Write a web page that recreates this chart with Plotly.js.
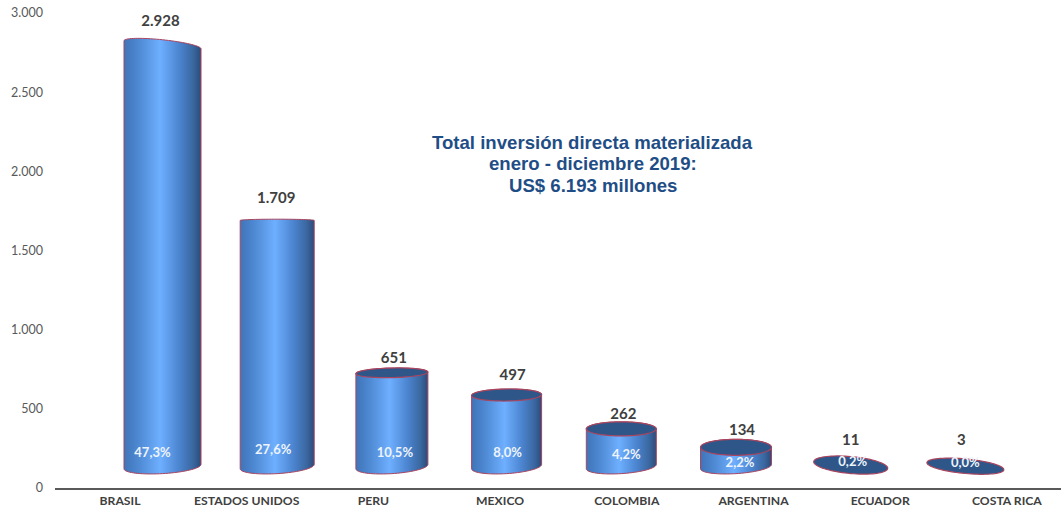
<!DOCTYPE html>
<html>
<head>
<meta charset="utf-8">
<script src="https://cdn.plot.ly/plotly-3.0.1.min.js"></script>
<style>html,body{margin:0;padding:0;background:#fff;overflow:hidden}</style>
</head>
<body>
<div id="chart" style="width:1061px;height:515px"></div>
<script>
// ---- data ----
const categories = ["BRASIL","ESTADOS UNIDOS","PERU","MEXICO","COLOMBIA","ARGENTINA","ECUADOR","COSTA RICA"];
const amounts = [2928,1709,651,497,262,134,11,3];
const amountLabels = ["2.928","1.709","651","497","262","134","11","3"];
const shareLabels = ["47,3%","27,6%","10,5%","8,0%","4,2%","2,2%","0,2%","0,0%"];
const yTicks = [0,500,1000,1500,2000,2500,3000];
const subtitleLines = ["Total inversión directa materializada","enero - diciembre 2019:","US$ 6.193 millones"];

// ---- cylinder drawing geometry (pixels on the plot) ----
const pxPerUnit = 475/3000;
const baseValue = 135, heightScale = 0.91;
const barStart = 162.5, barStep = 114.7, tickStart = 120, tickStep = 126.7;
const halfWidth = [38.5,37,36,35,35,35.5,37,38.5];
const capHalf   = [5,1.2,4.8,6,7,8,8.5,7.3];
const capTilt   = [4,0,-0.8,-0.5,0,0,3.2,3.5];
const hasCap    = [false,false,true,true,true,true,true,true];
const valueDy   = [23,21,14,19,14,16,24,25];
const valueDx   = [-2,-1,2,6,2,6,0,-4];
const shareY    = [454,451,454,454,456,464,463,464];
const shareDx   = [-10,-4,3,1,5,4,2,0];
const edge = "#a8455f", capFill = "#2f5689";
const shine = [[0,"#3f74b8"],[0.2,"#4f8ad4"],[0.47,"#6eafff"],[0.72,"#4b84cf"],[0.9,"#3a679f"],[1,"#2c4a7a"]];

const cx = i => barStart + i*barStep;
const topVal = v => baseValue + heightScale*v;
const px = p => p/pxPerUnit;

function arc(x0,yVal,w,h,tilt,from,to,n){
  const xs=[],ys=[];
  for(let k=0;k<=n;k++){
    const t=from+(to-from)*k/n;
    xs.push(x0+w*Math.cos(t));
    ys.push(yVal-px(h*Math.sin(t)+tilt*Math.cos(t)));
  }
  return [xs,ys];
}

const traces=[];
amounts.forEach((v,i)=>{
  const c=cx(i), w=halfWidth[i], yTop=topVal(v);
  const up=arc(c,yTop,w,capHalf[i],capTilt[i],Math.PI,2*Math.PI,40);
  const dn=arc(c,baseValue,w,7,-2.2,0,Math.PI,40);
  if(hasCap[i] && v<50){ return; }
  traces.push({type:"scatter",mode:"lines",
    x:up[0].concat(dn[0],[up[0][0]]),y:up[1].concat(dn[1],[up[1][0]]),
    fill:"toself",fillcolor:"#4f8ad4",
    fillgradient:{type:"horizontal",colorscale:shine},
    line:{color:edge,width:1,simplify:false},hoverinfo:"skip"});
});
amounts.forEach((v,i)=>{
  if(!hasCap[i]) return;
  const cap=arc(cx(i),topVal(v),halfWidth[i],capHalf[i],capTilt[i],0,2*Math.PI,80);
  traces.push({type:"scatter",mode:"lines",x:cap[0],y:cap[1],
    fill:"toself",fillcolor:capFill,line:{color:edge,width:1.2,simplify:false},hoverinfo:"skip"});
});

traces.push({type:"scatter",mode:"text",
  x:amounts.map((v,i)=>cx(i)+valueDx[i]),
  y:amounts.map((v,i)=>topVal(v)+px(valueDy[i])),
  text:amountLabels,textposition:"middle center",
  textfont:{family:"Lato, 'Open Sans', sans-serif",size:15,color:"#404040",weight:700},hoverinfo:"skip"});
traces.push({type:"scatter",mode:"text",
  x:amounts.map((v,i)=>cx(i)+shareDx[i]),
  y:shareY.map(p=>px(488-p)),
  text:shareLabels,textposition:"middle center",
  textfont:{family:"Lato, 'Open Sans', sans-serif",size:13,color:"#eef4fc",weight:700},hoverinfo:"skip"});

const layout={
  width:1061,height:515,showlegend:false,hovermode:false,
  paper_bgcolor:"#fff",plot_bgcolor:"#fff",separators:",.",
  margin:{l:55,r:0,t:13,b:27,pad:0},
  xaxis:{range:[55,1061],showgrid:false,zeroline:false,showline:true,linecolor:"#595959",linewidth:2,
    tickmode:"array",tickvals:categories.map((_,i)=>tickStart+i*tickStep),ticktext:categories,ticks:"",
    tickangle:0,tickfont:{family:"Lato, 'Open Sans', sans-serif",size:12.2,color:"#404040",weight:700},fixedrange:true},
  yaxis:{range:[0,3000],showgrid:false,zeroline:false,showline:false,
    tickmode:"array",tickvals:yTicks,tickformat:",d",ticks:"",ticklabelstandoff:11,
    tickfont:{family:"Lato, 'Open Sans', sans-serif",size:12.5,color:"#595959"},fixedrange:true},
  annotations:subtitleLines.map((s,i)=>({xref:"paper",yref:"paper",x:(592.5-55)/1006,y:(488-(142+22*i))/475,text:s,showarrow:false,
    align:"center",xanchor:"center",yanchor:"middle",
    font:{family:"'Liberation Sans', Arial, sans-serif",size:18.6,color:"#1f4e86",weight:700}}))
};
Plotly.newPlot("chart",traces,layout,{displayModeBar:false,staticPlot:true});
</script>
</body>
</html>
